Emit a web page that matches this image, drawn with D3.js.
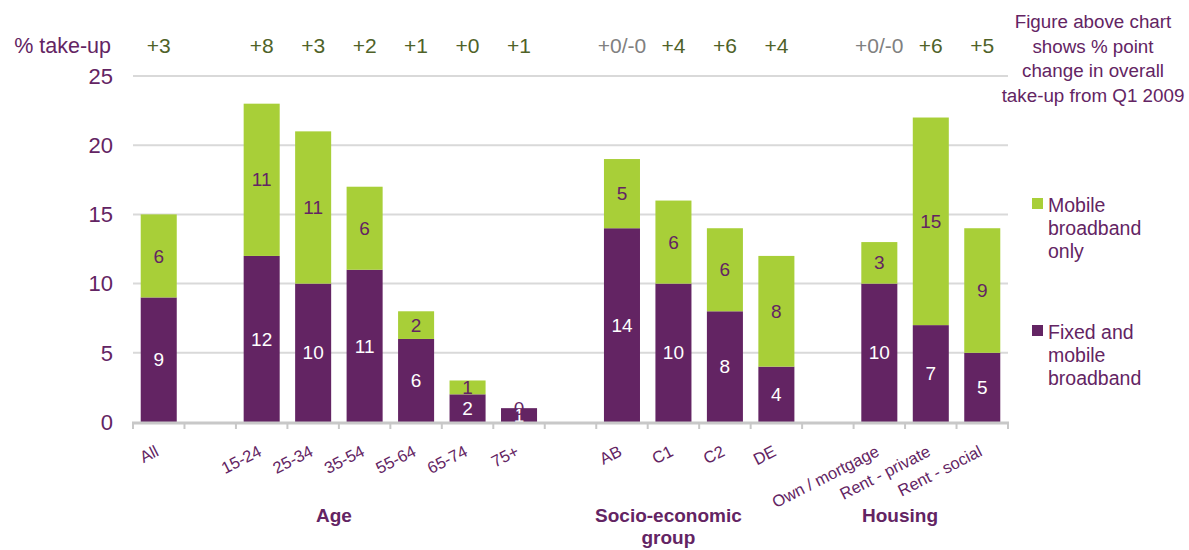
<!DOCTYPE html>
<html><head><meta charset="utf-8">
<script src="https://cdn.jsdelivr.net/npm/d3@7"></script>
<style>body{margin:0;background:#fff;} text{font-family:"Liberation Sans",Arial,sans-serif;}</style>
</head><body>
<svg id="chart" width="1189" height="550"></svg>
<script>
const slots = ["All","_g1","15-24","25-34","35-54","55-64","65-74","75+","_g2","AB","C1","C2","DE","_g3","Own / mortgage","Rent - private","Rent - social"];
const categories = ["All","15-24","25-34","35-54","55-64","65-74","75+","AB","C1","C2","DE","Own / mortgage","Rent - private","Rent - social"];
const fixedMobile = [9,12,10,11,6,2,1,14,10,8,4,10,7,5];
const mobileOnly  = [6,11,11,6,2,1,0,5,6,6,8,3,15,9];
const changes = ["+3","+8","+3","+2","+1","+0","+1","+0/-0","+4","+6","+4","+0/-0","+6","+5"];
const yTicks = [0,5,10,15,20,25];
const groups = [{label:["Age"], from:"All", to:"75+"},{label:["Socio-economic","group"], from:"_g2", to:"DE"},{label:["Housing"], from:"_g3", to:"Rent - social"}];
const seriesNames = ["Mobile broadband only","Fixed and mobile broadband"];

const purple="#632463", green="#a8cf38", textPurple="#632463", changeGreen="#4f6228", changeGray="#808080", grid="#d9d9d9";
const svg=d3.select("#chart");
const x=d3.scaleBand().domain(slots).range([133,1008]).paddingInner(0.3).paddingOuter(0.15);
const y=d3.scaleLinear().domain([0,25]).range([422,76]);
const step=x.step();

// gridlines
svg.append("g").selectAll("line").data(yTicks.filter(d=>d>0)).join("line")
  .attr("x1",133).attr("x2",1008).attr("y1",d=>y(d)).attr("y2",d=>y(d))
  .attr("stroke",grid).attr("stroke-width",2);
// y labels
svg.append("g").selectAll("text").data(yTicks).join("text")
  .attr("x",113).attr("y",d=>y(d)).attr("dy","0.35em").attr("text-anchor","end")
  .attr("font-size",22).attr("fill",textPurple).text(d=>d);

const data=categories.map((c,i)=>({c,f:fixedMobile[i],m:mobileOnly[i],ch:changes[i]}));
const cx=c=>x(c)+x.bandwidth()/2;

// bars
const g=svg.append("g");
g.selectAll("rect.f").data(data).join("rect").attr("x",d=>x(d.c)).attr("width",x.bandwidth())
  .attr("y",d=>y(d.f)).attr("height",d=>y(0)-y(d.f)).attr("fill",purple);
g.selectAll("rect.m").data(data).join("rect").attr("x",d=>x(d.c)).attr("width",x.bandwidth())
  .attr("y",d=>y(d.f+d.m)).attr("height",d=>y(d.f)-y(d.f+d.m)).attr("fill",green);

// baseline axis
svg.append("line").attr("x1",132).attr("x2",1009).attr("y1",y(0)+1).attr("y2",y(0)+1).attr("stroke","#c8c8c8").attr("stroke-width",3);
const bounds=d3.range(slots.length+1).map(i=>133+i*step);
svg.append("g").selectAll("line").data(bounds).join("line")
  .attr("x1",d=>d).attr("x2",d=>d).attr("y1",y(0)).attr("y2",y(0)+7).attr("stroke","#c8c8c8").attr("stroke-width",2);

// value labels
g.selectAll("text.f").data(data).join("text").attr("x",d=>cx(d.c)).attr("y",d=>(y(0)+y(d.f))/2).attr("dy","0.35em")
  .attr("text-anchor","middle").attr("font-size",19).attr("fill","#fff").text(d=>d.f);
g.selectAll("text.m").data(data).join("text").attr("x",d=>cx(d.c)).attr("y",d=>(y(d.f)+y(d.f+d.m))/2).attr("dy","0.35em")
  .attr("text-anchor","middle").attr("font-size",19).attr("fill",textPurple).text(d=>d.m);

// change figures
svg.append("text").attr("x",111).attr("y",53).attr("text-anchor","end").attr("font-size",21.5).attr("fill",textPurple).text("% take-up");
svg.append("g").selectAll("text").data(data).join("text").attr("x",d=>cx(d.c)).attr("y",53).attr("text-anchor","middle")
  .attr("font-size",21).attr("fill",d=>d.ch==="+0/-0"?changeGray:changeGreen).text(d=>d.ch);

// category labels rotated
svg.append("g").selectAll("text").data(categories).join("text")
  .attr("transform",c=>`translate(${cx(c)+1},${455}) rotate(-27)`).attr("text-anchor","end")
  .attr("font-size",16.5).attr("fill",textPurple).text(c=>c);

// group labels
groups.forEach(gr=>{
  const mid=(x(gr.from)+x(gr.to)+x.bandwidth())/2-5;
  const t=svg.append("text").attr("x",mid).attr("y",522).attr("text-anchor","middle").attr("font-size",19).attr("font-weight","bold").attr("fill",textPurple);
  gr.label.forEach((l,i)=>t.append("tspan").attr("x",mid).attr("dy",i?22:0).text(l));
});

// note
const note=["Figure above chart","shows % point","change in overall","take-up from Q1 2009"];
svg.append("g").selectAll("text").data(note).join("text").attr("x",1093).attr("y",(d,i)=>28+i*24.5)
  .attr("text-anchor","middle").attr("font-size",18.8).attr("fill",textPurple).text(d=>d);

// legend
const legend=[{name:seriesNames[0],color:green,lines:["Mobile","broadband","only"],y:198},{name:seriesNames[1],color:purple,lines:["Fixed and","mobile","broadband"],y:325}];
legend.forEach(l=>{
  svg.append("rect").attr("x",1032).attr("y",l.y).attr("width",11).attr("height",11).attr("fill",l.color);
  l.lines.forEach((t,i)=>svg.append("text").attr("x",1048).attr("y",l.y+14+i*23).attr("font-size",19.5).attr("fill",textPurple).text(t));
});
</script>
</body></html>
